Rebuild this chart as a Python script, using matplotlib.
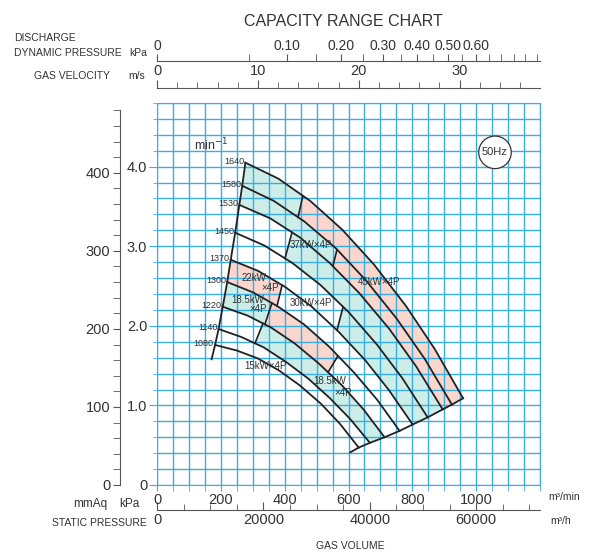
import numpy as np
import matplotlib.pyplot as plt
from matplotlib.ticker import MultipleLocator, FixedLocator, FixedFormatter

plt.rcParams['font.family'] = ['Liberation Sans Narrow', 'Liberation Sans', 'DejaVu Sans']

# fan speeds (min^-1) and their curves: gas volume m3/min vs static pressure kPa
speeds = [1640, 1580, 1530, 1450, 1370, 1300, 1220, 1140, 1080]
q_1640 = [277, 380, 480, 580, 680, 780, 870, 959]
p_1640 = [4.05, 3.85, 3.57, 3.21, 2.77, 2.25, 1.71, 1.09]
q_1580 = [267, 366, 462, 559, 655, 751, 838, 924]
p_1580 = [3.76, 3.57, 3.31, 2.98, 2.57, 2.09, 1.59, 1.01]
q_1530 = [258, 355, 448, 541, 634, 728, 812, 895]
p_1530 = [3.52, 3.35, 3.11, 2.79, 2.41, 1.96, 1.49, 0.95]
q_1450 = [245, 336, 424, 513, 601, 690, 769, 848]
p_1450 = [3.17, 3.01, 2.79, 2.51, 2.17, 1.76, 1.34, 0.85]
q_1370 = [231, 317, 401, 485, 568, 652, 727, 801]
p_1370 = [2.83, 2.69, 2.49, 2.24, 1.93, 1.57, 1.19, 0.76]
q_1300 = [220, 301, 380, 460, 539, 618, 690, 760]
p_1300 = [2.55, 2.42, 2.24, 2.02, 1.74, 1.41, 1.07, 0.68]
q_1220 = [206, 283, 357, 431, 506, 580, 647, 713]
p_1220 = [2.24, 2.13, 1.98, 1.78, 1.53, 1.25, 0.95, 0.60]
q_1140 = [193, 264, 334, 403, 473, 542, 605, 667]
p_1140 = [1.96, 1.86, 1.73, 1.55, 1.34, 1.09, 0.83, 0.53]
q_1080 = [182, 250, 316, 382, 448, 514, 573, 632]
p_1080 = [1.76, 1.69, 1.59, 1.44, 1.25, 1.02, 0.77, 0.47]

curves = {
    1640: (q_1640, p_1640), 1580: (q_1580, p_1580), 1530: (q_1530, p_1530),
    1450: (q_1450, p_1450), 1370: (q_1370, p_1370), 1300: (q_1300, p_1300),
    1220: (q_1220, p_1220), 1140: (q_1140, p_1140), 1080: (q_1080, p_1080),
}

# lower extensions of the left (surge) line and right (end) line
left_low = (171, 1.58)
right_low = (605, 0.41)

# motor bands: upper speed, lower speed, separators (q on upper, q on lower), fills
CYAN = '#cdeee8'
PINK = '#fad6cd'
bands = [
    (1640, 1580, [(457, 442)], [CYAN, PINK]),
    (1580, 1530, [(564, 551)], [CYAN, PINK]),
    (1530, 1450, [(423, 401)], [None, CYAN]),
    (1450, 1370, [(583, 564)], [None, CYAN]),
    (1370, 1300, [(392, 376)], [PINK, None]),
    (1300, 1220, [(360, 338), (567, 536)], [CYAN, PINK, None]),
    (1220, 1140, [(332, 307)], [None, CYAN]),
]

motor_labels = [
    ('37kW×4P', 482, 3.02), ('45kW×4P', 696, 2.55), ('30kW×4P', 482, 2.29),
    ('22kW', 305, 2.60), ('×4P', 354, 2.48), ('18.5kW', 285, 2.33), ('×4P', 316, 2.21),
    ('15kW×4P', 341, 1.49), ('18.5kW', 540, 1.31), ('×4P', 583, 1.16),
]

GRID = '#38aee4'
INK = '#222222'
TXT = '#333333'

fig = plt.figure(figsize=(5.92, 5.53), dpi=100)
W, H = 592, 553
ax = fig.add_axes([157 / W, 1 - 485 / H, 383 / W, 382 / H])
ax.set_xlim(0, 1200)
ax.set_ylim(0, 4.8)


def seg(q, p, q0, q1):
    q = np.asarray(q, float)
    p = np.asarray(p, float)
    m = (q > q0) & (q < q1)
    qs = np.concatenate([[q0], q[m], [q1]])
    return qs, np.interp(qs, q, p)


for up, lo, seps, cols in bands:
    qu, pu = curves[up]
    ql, pl = curves[lo]
    bu = [qu[0]] + [s[0] for s in seps] + [qu[-1]]
    bl = [ql[0]] + [s[1] for s in seps] + [ql[-1]]
    for i, c in enumerate(cols):
        if c is None:
            continue
        xa, ya = seg(qu, pu, bu[i], bu[i + 1])
        xb, yb = seg(ql, pl, bl[i], bl[i + 1])
        ax.fill(np.r_[xa, xb[::-1]], np.r_[ya, yb[::-1]], color=c, lw=0, zorder=1)
    for s in seps:
        ax.plot([s[0], s[1]], [np.interp(s[0], qu, pu), np.interp(s[1], ql, pl)],
                color=INK, lw=1.2, zorder=3)

for n in speeds:
    q, p = curves[n]
    ax.plot(q, p, color=INK, lw=1.3, zorder=3)
    ax.text(q[0] - 4, p[0] + 0.02, str(n), fontsize=6.5, color=TXT,
            ha='right', va='center', zorder=4)

lq = [left_low[0]] + [curves[n][0][0] for n in speeds[::-1]]
lp = [left_low[1]] + [curves[n][1][0] for n in speeds[::-1]]
ax.plot(lq, lp, color=INK, lw=1.3, zorder=3)
rq = [right_low[0]] + [curves[n][0][-1] for n in speeds[::-1]]
rp = [right_low[1]] + [curves[n][1][-1] for n in speeds[::-1]]
ax.plot(rq, rp, color=INK, lw=1.3, zorder=3)

for t, q, p in motor_labels:
    ax.text(q, p, t, fontsize=7, color=TXT, ha='center', va='center', zorder=4)

ax.text(170, 4.27, 'min$^{-1}$', fontsize=9, color=TXT, ha='center', va='center')
ax.text(1059, 4.18, '50Hz', fontsize=8, color=TXT, ha='center', va='center',
        bbox=dict(boxstyle='circle,pad=0.3', fc='white', ec=TXT, lw=0.9))

# grid and main scales
ax.set_axisbelow('line')
ax.xaxis.set_minor_locator(MultipleLocator(50))
ax.yaxis.set_minor_locator(MultipleLocator(0.2))
ax.grid(True, which='both', color=GRID, lw=1)
ax.set_xticks([0, 200, 400, 600, 800, 1000])
ax.set_xticklabels(['0', '200', '400', '600', '800', '1000'])
ax.set_yticks([0, 1, 2, 3, 4])
ax.set_yticklabels(['0', '1.0', '2.0', '3.0', '4.0'])
ax.tick_params(which='both', color=GRID, labelcolor=TXT, labelsize=10.5)
ax.tick_params(axis='x', which='both', length=4, pad=2)
ax.tick_params(axis='y', which='major', length=6, pad=1)
ax.tick_params(axis='y', which='minor', length=3)
for sp in ax.spines.values():
    sp.set_color(GRID)

# mmAq axis
mm = ax.secondary_yaxis(-0.0966, functions=(lambda x: x * 101.97, lambda x: x / 101.97))
mm.yaxis.set_major_locator(FixedLocator([0, 100, 200, 300, 400]))
mm.yaxis.set_minor_locator(FixedLocator(np.arange(20, 481, 20)))
mm.tick_params(which='both', color='#555555', labelcolor=TXT, labelsize=10.5, length=5, pad=2)
mm.spines['left'].set_color('#555555')
mm.spines['left'].set_bounds(0, 480)

# m3/h axis
mh = ax.secondary_xaxis(-0.065, functions=(lambda x: x * 60, lambda x: x / 60))
mh.xaxis.set_major_locator(FixedLocator([0, 20000, 40000, 60000]))
mh.xaxis.set_minor_locator(FixedLocator(np.arange(5000, 70001, 5000)))
mh.tick_params(which='both', direction='in', color='#555555', labelcolor=TXT, labelsize=10.5, pad=2)
mh.tick_params(which='major', length=6)
mh.tick_params(which='minor', length=4)
mh.spines['bottom'].set_color('#555555')

# gas velocity axis
vel = ax.secondary_xaxis(1.039, functions=(lambda x: x / 31.6, lambda x: x * 31.6))
vel.xaxis.set_major_locator(FixedLocator([0, 10, 20, 30]))
vel.xaxis.set_minor_locator(FixedLocator([v for v in range(2, 38, 2) if v % 10]))
vel.tick_params(which='both', color='#555555', labelcolor=TXT, labelsize=10.5, pad=1)
vel.tick_params(which='major', length=6)
vel.tick_params(which='minor', length=4)
vel.spines['top'].set_color('#555555')

# discharge dynamic pressure axis
dyn = ax.secondary_xaxis(1.110, functions=(
    lambda x: 0.6 * (np.asarray(x, float) / 31.6) ** 2 / 1000,
    lambda x: 31.6 * np.sqrt(np.maximum(np.asarray(x, float), 0) * 1000 / 0.6)))
dyn_major = [0, 0.1, 0.2, 0.3, 0.4, 0.5, 0.6]
dyn_minor = [0.05, 0.15, 0.25, 0.35, 0.45, 0.55, 0.65, 0.7, 0.75, 0.8, 0.85]
dyn.xaxis.set_major_locator(FixedLocator(dyn_major))
dyn.xaxis.set_major_formatter(FixedFormatter(['0', '0.10', '0.20', '0.30', '0.40', '0.50', '0.60']))
dyn.xaxis.set_minor_locator(FixedLocator(dyn_minor))
dyn.tick_params(which='both', color='#555555', labelcolor=TXT, labelsize=10, length=5, pad=1)
dyn.spines['top'].set_color('#555555')


def ftext(px, py, s, **kw):
    kw.setdefault('color', TXT)
    fig.text(px / W, 1 - py / H, s, va='center', **kw)


ftext(343, 21, 'CAPACITY RANGE CHART', fontsize=11.5, ha='center')
ftext(14, 38, 'DISCHARGE', fontsize=7.5)
ftext(14, 53, 'DYNAMIC PRESSURE', fontsize=7.5)
ftext(138, 53, 'kPa', fontsize=7.5, ha='center')
ftext(110, 76, 'GAS VELOCITY', fontsize=7.5, ha='right')
ftext(137, 76, 'm/s', fontsize=7.5, ha='center')
ftext(90, 504, 'mmAq', fontsize=8.5, ha='center')
ftext(129, 504, 'kPa', fontsize=8.5, ha='center')
ftext(147, 523, 'STATIC PRESSURE', fontsize=7.5, ha='right')
ftext(350, 546, 'GAS VOLUME', fontsize=7.5, ha='center')
ftext(548, 497, 'm³/min', fontsize=7.5)
ftext(550, 521, 'm³/h', fontsize=7.5)

fig.savefig('out.png', dpi=100)
